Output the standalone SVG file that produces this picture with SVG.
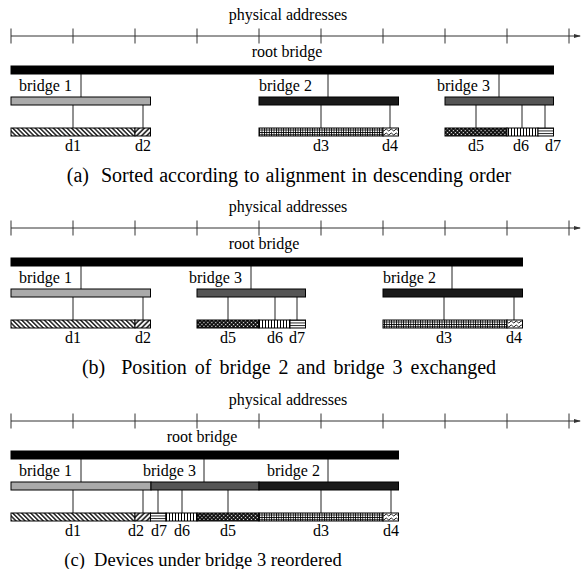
<svg xmlns="http://www.w3.org/2000/svg" width="581" height="569" viewBox="0 0 581 569">
<style>
text{font-family:"Liberation Serif","Times New Roman",serif;font-size:16px;fill:#000}
.cap{font-size:20px;text-anchor:middle}
.mid{text-anchor:middle}
.ax{stroke:#333;stroke-width:1;fill:none}
.root{fill:#000;stroke:#000;stroke-width:1}
.b1{fill:#aaaaaa;stroke:#000;stroke-width:1}
.b2{fill:#1a1a1a;stroke:#000;stroke-width:1}
.b3{fill:#555555;stroke:#000;stroke-width:1}
.dev{stroke:#000;stroke-width:1}
.con line{stroke:#222;stroke-width:1}
</style>
<defs>
<marker id="arr" markerWidth="7" markerHeight="6" refX="6" refY="3" orient="auto" markerUnits="userSpaceOnUse"><path d="M0,1 L7,3 L0,5 z" fill="#333"/></marker>
<pattern id="p1" width="3.2" height="3.2" patternUnits="userSpaceOnUse" patternTransform="rotate(-45)"><rect width="3.2" height="3.2" fill="#fff"/><line x1="1.6" y1="0" x2="1.6" y2="3.2" stroke="#000" stroke-width="1.3"/></pattern>
<pattern id="p2" width="3.6" height="3.6" patternUnits="userSpaceOnUse" patternTransform="rotate(45)"><rect width="3.6" height="3.6" fill="#fff"/><line x1="1.8" y1="0" x2="1.8" y2="3.6" stroke="#000" stroke-width="1.4"/></pattern>
<pattern id="p3" width="2.4" height="2.4" patternUnits="userSpaceOnUse"><rect width="2.4" height="2.4" fill="#fff"/><path d="M0,0.4H2.4M0.4,0V2.4" stroke="#000" stroke-width="0.9"/></pattern>
<pattern id="p4" width="5" height="4" patternUnits="userSpaceOnUse"><rect width="5" height="4" fill="#fff"/><path d="M0,2 Q1.25,0 2.5,2 T5,2" stroke="#000" stroke-width="0.9" fill="none"/></pattern>
<pattern id="p5" width="2.8" height="2.8" patternUnits="userSpaceOnUse" patternTransform="rotate(45)"><rect width="2.8" height="2.8" fill="#000"/><rect x="0.7" y="0.7" width="1.3" height="1.3" fill="#fff"/></pattern>
<pattern id="p6" width="3" height="4" patternUnits="userSpaceOnUse"><rect width="3" height="4" fill="#fff"/><line x1="1.5" y1="0" x2="1.5" y2="4" stroke="#000" stroke-width="1"/></pattern>
<pattern id="p7" width="4" height="2.7" patternUnits="userSpaceOnUse"><rect width="4" height="2.7" fill="#fff"/><line x1="0" y1="1.35" x2="4" y2="1.35" stroke="#000" stroke-width="0.9"/></pattern>
<g id="axis">
<line class="ax" x1="11" y1="36" x2="580" y2="36" marker-end="url(#arr)"/>
<path class="ax" d="M11,28.5V43.5M73,28.5V43.5M135,28.5V43.5M197,28.5V43.5M259,28.5V43.5M321,28.5V43.5M383,28.5V43.5M445,28.5V43.5M507,28.5V43.5M569,28.5V43.5"/>
<text class="mid" x="288" y="20">physical addresses</text>
</g>
</defs>

<!-- (a) -->
<g id="sec-a">
<use href="#axis"/>
<g class="con" id="connectors-a">
<line x1="81" y1="74" x2="81" y2="97"/><line x1="328" y1="74" x2="328" y2="97"/><line x1="499" y1="74" x2="499" y2="97"/>
<line x1="73" y1="105" x2="73" y2="128"/><line x1="143" y1="105" x2="143" y2="128"/>
<line x1="321" y1="105" x2="321" y2="128"/><line x1="390" y1="105" x2="390" y2="128"/>
<line x1="476" y1="105" x2="476" y2="128"/><line x1="522" y1="105" x2="522" y2="128"/><line x1="545" y1="105" x2="545" y2="128"/>
</g>
<g id="a-root"><rect class="root" x="11" y="66" width="542.5" height="8"/><text class="mid" x="287" y="57">root bridge</text></g>
<g id="a-bridge1"><rect class="b1" x="11" y="97" width="139.5" height="8"/><text x="19" y="91">bridge 1</text></g>
<g id="a-bridge2"><rect class="b2" x="259" y="97" width="139.5" height="8"/><text x="259" y="91">bridge 2</text></g>
<g id="a-bridge3"><rect class="b3" x="445" y="97" width="108.5" height="8"/><text x="437" y="91">bridge 3</text></g>
<g id="a-d1"><rect class="dev" x="11" y="128" width="124" height="8" fill="url(#p1)"/><text class="mid" x="73" y="151">d1</text></g>
<g id="a-d2"><rect class="dev" x="135" y="128" width="15.5" height="8" fill="url(#p2)"/><text class="mid" x="143" y="151">d2</text></g>
<g id="a-d3"><rect class="dev" x="259" y="128" width="124" height="8" fill="url(#p3)"/><text class="mid" x="321" y="151">d3</text></g>
<g id="a-d4"><rect class="dev" x="383" y="128" width="15.5" height="8" fill="url(#p4)"/><text class="mid" x="390" y="151">d4</text></g>
<g id="a-d5"><rect class="dev" x="445" y="128" width="62" height="8" fill="url(#p5)"/><text class="mid" x="476" y="151">d5</text></g>
<g id="a-d6"><rect class="dev" x="507" y="128" width="31" height="8" fill="url(#p6)"/><text class="mid" x="521" y="151">d6</text></g>
<g id="a-d7"><rect class="dev" x="538" y="128" width="15.5" height="8" fill="url(#p7)"/><text class="mid" x="553" y="151">d7</text></g>
<text class="cap" x="289" y="182" style="word-spacing:1px">(a)&#160; Sorted according to alignment in descending order</text>
</g>

<!-- (b) -->
<g id="sec-b" transform="translate(0,192)">
<use href="#axis"/>
<g class="con" id="connectors-b">
<line x1="81" y1="74" x2="81" y2="97"/><line x1="251" y1="74" x2="251" y2="97"/><line x1="452" y1="74" x2="452" y2="97"/>
<line x1="73" y1="105" x2="73" y2="128"/><line x1="143" y1="105" x2="143" y2="128"/>
<line x1="228" y1="105" x2="228" y2="128"/><line x1="275" y1="105" x2="275" y2="128"/><line x1="297" y1="105" x2="297" y2="128"/>
<line x1="444" y1="105" x2="444" y2="128"/><line x1="514" y1="105" x2="514" y2="128"/>
</g>
<g id="b-root"><rect class="root" x="11" y="66" width="511.5" height="8"/><text class="mid" x="264" y="57">root bridge</text></g>
<g id="b-bridge1"><rect class="b1" x="11" y="97" width="139.5" height="8"/><text x="19" y="91">bridge 1</text></g>
<g id="b-bridge3"><rect class="b3" x="197" y="97" width="108.5" height="8"/><text x="189" y="91">bridge 3</text></g>
<g id="b-bridge2"><rect class="b2" x="383" y="97" width="139.5" height="8"/><text x="383" y="91">bridge 2</text></g>
<g id="b-d1"><rect class="dev" x="11" y="128" width="124" height="8" fill="url(#p1)"/><text class="mid" x="73" y="151">d1</text></g>
<g id="b-d2"><rect class="dev" x="135" y="128" width="15.5" height="8" fill="url(#p2)"/><text class="mid" x="143" y="151">d2</text></g>
<g id="b-d5"><rect class="dev" x="197" y="128" width="62" height="8" fill="url(#p5)"/><text class="mid" x="228" y="151">d5</text></g>
<g id="b-d6"><rect class="dev" x="259" y="128" width="31" height="8" fill="url(#p6)"/><text class="mid" x="275" y="151">d6</text></g>
<g id="b-d7"><rect class="dev" x="290" y="128" width="15.5" height="8" fill="url(#p7)"/><text class="mid" x="297" y="151">d7</text></g>
<g id="b-d3"><rect class="dev" x="383" y="128" width="124" height="8" fill="url(#p3)"/><text class="mid" x="444" y="151">d3</text></g>
<g id="b-d4"><rect class="dev" x="507" y="128" width="15.5" height="8" fill="url(#p4)"/><text class="mid" x="514" y="151">d4</text></g>
<text class="cap" x="289" y="182" style="word-spacing:3px">(b)&#160; Position of bridge 2 and bridge 3 exchanged</text>
</g>

<!-- (c) -->
<g id="sec-c" transform="translate(0,385)">
<use href="#axis"/>
<g class="con" id="connectors-c">
<line x1="81" y1="74" x2="81" y2="97"/><line x1="204" y1="74" x2="204" y2="97"/><line x1="328" y1="74" x2="328" y2="97"/>
<line x1="73" y1="105" x2="73" y2="128"/><line x1="143" y1="105" x2="143" y2="128"/>
<line x1="158" y1="105" x2="158" y2="128"/><line x1="182" y1="105" x2="182" y2="128"/><line x1="228" y1="105" x2="228" y2="128"/>
<line x1="321" y1="105" x2="321" y2="128"/><line x1="391" y1="105" x2="391" y2="128"/>
</g>
<g id="c-root"><rect class="root" x="11" y="66" width="387.5" height="8"/><text class="mid" x="202" y="57">root bridge</text></g>
<g id="c-bridge1"><rect class="b1" x="11" y="97" width="140" height="8"/><text x="19" y="91">bridge 1</text></g>
<g id="c-bridge3"><rect class="b3" x="151" y="97" width="108" height="8"/><text x="143" y="91">bridge 3</text></g>
<g id="c-bridge2"><rect class="b2" x="259" y="97" width="139.5" height="8"/><text x="267" y="91">bridge 2</text></g>
<g id="c-d1"><rect class="dev" x="11" y="128" width="124" height="8" fill="url(#p1)"/><text class="mid" x="73" y="151">d1</text></g>
<g id="c-d2"><rect class="dev" x="135" y="128" width="15.5" height="8" fill="url(#p2)"/><text class="mid" x="136" y="151">d2</text></g>
<g id="c-d7"><rect class="dev" x="150.5" y="128" width="15.5" height="8" fill="url(#p7)"/><text class="mid" x="159" y="151">d7</text></g>
<g id="c-d6"><rect class="dev" x="166" y="128" width="31" height="8" fill="url(#p6)"/><text class="mid" x="182" y="151">d6</text></g>
<g id="c-d5"><rect class="dev" x="197" y="128" width="62" height="8" fill="url(#p5)"/><text class="mid" x="228" y="151">d5</text></g>
<g id="c-d3"><rect class="dev" x="259" y="128" width="124" height="8" fill="url(#p3)"/><text class="mid" x="321" y="151">d3</text></g>
<g id="c-d4"><rect class="dev" x="383" y="128" width="15.5" height="8" fill="url(#p4)"/><text class="mid" x="391" y="151">d4</text></g>
<text class="cap" x="203" y="181" style="font-size:18.5px">(c)&#160; Devices under bridge 3 reordered</text>
</g>
</svg>
